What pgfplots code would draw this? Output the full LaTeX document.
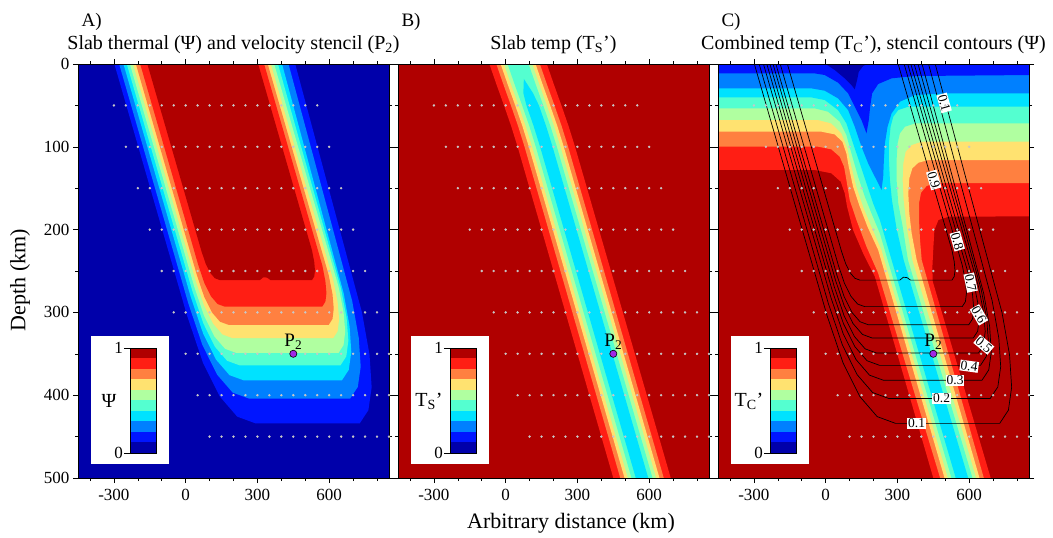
\documentclass[border=0pt]{standalone}
\usepackage{pgfplots}
\usepackage{pgfplotstable}
\pgfplotsset{compat=1.18}
\usepackage{fontspec}
\setmainfont{Liberation Serif}

\definecolor{j0}{RGB}{0,0,170}
\definecolor{j1}{RGB}{0,21,255}
\definecolor{j2}{RGB}{0,128,255}
\definecolor{j3}{RGB}{0,226,255}
\definecolor{j4}{RGB}{84,255,208}
\definecolor{j5}{RGB}{176,255,160}
\definecolor{j6}{RGB}{255,226,112}
\definecolor{j7}{RGB}{255,128,64}
\definecolor{j8}{RGB}{255,30,20}
\definecolor{j9}{RGB}{176,0,0}
\definecolor{dotgray}{RGB}{200,200,200}
\definecolor{ppt}{RGB}{160,40,230}
\newcommand{\fs}[1]{\fontsize{#1}{#1}\selectfont}

% velocity sample points (x km, depth km)
\pgfplotstableread[row sep=\\]{
x z\\
-300 50\\ -250 50\\ -200 50\\ -150 50\\ -100 50\\ -50 50\\ 0 50\\ 50 50\\ 100 50\\ 150 50\\ 200 50\\ 250 50\\ 300 50\\ 350 50\\ 400 50\\ 450 50\\ 500 50\\ 550 50\\
-250 100\\ -200 100\\ -150 100\\ -100 100\\ -50 100\\ 0 100\\ 50 100\\ 100 100\\ 150 100\\ 200 100\\ 250 100\\ 300 100\\ 350 100\\ 400 100\\ 450 100\\ 500 100\\ 550 100\\ 600 100\\
-200 150\\ -150 150\\ -100 150\\ -50 150\\ 0 150\\ 50 150\\ 100 150\\ 150 150\\ 200 150\\ 250 150\\ 300 150\\ 350 150\\ 400 150\\ 450 150\\ 500 150\\ 550 150\\ 600 150\\ 650 150\\
-150 200\\ -100 200\\ -50 200\\ 0 200\\ 50 200\\ 100 200\\ 150 200\\ 200 200\\ 250 200\\ 300 200\\ 350 200\\ 400 200\\ 450 200\\ 500 200\\ 550 200\\ 600 200\\ 650 200\\ 700 200\\
-100 250\\ -50 250\\ 0 250\\ 50 250\\ 100 250\\ 150 250\\ 200 250\\ 250 250\\ 300 250\\ 350 250\\ 400 250\\ 450 250\\ 500 250\\ 550 250\\ 600 250\\ 650 250\\ 700 250\\ 750 250\\
-50 300\\ 0 300\\ 50 300\\ 100 300\\ 150 300\\ 200 300\\ 250 300\\ 300 300\\ 350 300\\ 400 300\\ 450 300\\ 500 300\\ 550 300\\ 600 300\\ 650 300\\ 700 300\\ 750 300\\ 800 300\\
0 350\\ 50 350\\ 100 350\\ 150 350\\ 200 350\\ 250 350\\ 300 350\\ 350 350\\ 400 350\\ 450 350\\ 500 350\\ 550 350\\ 600 350\\ 650 350\\ 700 350\\ 750 350\\ 800 350\\ 850 350\\
50 400\\ 100 400\\ 150 400\\ 200 400\\ 250 400\\ 300 400\\ 350 400\\ 400 400\\ 450 400\\ 500 400\\ 550 400\\ 600 400\\ 650 400\\ 700 400\\ 750 400\\ 800 400\\ 850 400\\
100 450\\ 150 450\\ 200 450\\ 250 450\\ 300 450\\ 350 450\\ 400 450\\ 450 450\\ 500 450\\ 550 450\\ 600 450\\ 650 450\\ 700 450\\ 750 450\\ 800 450\\ 850 450\\
}\gridpts

% stencil Psi contours 0.1 ... 0.9 (panels A and C)
\pgfplotstableread[row sep=\\]{x z\\ -298 0\\ 6 304\\ 72.6 360.9\\ 142.5 401.5\\ 215.6 425.9\\ 292 434\\ 727.6 434\\ 763.9 418.1\\ 777.5 390.4\\ 768.6 351.1\\ 737 300\\ 458 0\\}\psiA
\pgfplotstableread[row sep=\\]{x z\\ -278 0\\ 11 289\\ 69.9 339.3\\ 131.8 375.3\\ 196.4 396.8\\ 264 404\\ 687.7 404\\ 719.7 390\\ 731.7 365.6\\ 723.8 331\\ 696 286\\ 430 0\\}\psiB
\pgfplotstableread[row sep=\\]{x z\\ -260 0\\ 22 282\\ 73.3 325.8\\ 127 357\\ 183.3 375.8\\ 242 382\\ 653.3 382\\ 681.7 369.5\\ 692.4 347.9\\ 685.4 317\\ 660.6 277\\ 403 0\\}\psiC
\pgfplotstableread[row sep=\\]{x z\\ -246 0\\ 28 274\\ 74.1 313.4\\ 122.5 341.5\\ 173.1 358.4\\ 226 364\\ 647.1 364\\ 671.6 353.1\\ 680.2 334.1\\ 673 307.1\\ 649.9 272\\ 386 0\\}\psiD
\pgfplotstableread[row sep=\\]{x z\\ -233 0\\ 36 269\\ 77 304\\ 120 329\\ 165 344\\ 212 349\\ 639 349\\ 660 339.5\\ 667 323\\ 660 299.5\\ 639 269\\ 370 0\\}\psiE
\pgfplotstableread[row sep=\\]{x z\\ -220 0\\ 41 261\\ 76.9 291.6\\ 114.5 313.5\\ 153.9 326.6\\ 195 331\\ 617 331\\ 635.4 322.7\\ 641.5 308.3\\ 635.4 287.7\\ 617 261\\ 356 0\\}\psiF
\pgfplotstableread[row sep=\\]{x z\\ -208 0\\ 47 255\\ 77.7 281.3\\ 110 300\\ 143.8 311.3\\ 179 315\\ 598 315\\ 613.8 307.9\\ 619 295.5\\ 613.8 277.9\\ 598 255\\ 343 0\\}\psiG
\pgfplotstableread[row sep=\\]{x z\\ -190 0\\ 53 243\\ 78.6 264.9\\ 105.5 280.5\\ 133.6 289.9\\ 163 293\\ 571 293\\ 584.1 287.1\\ 588.5 276.8\\ 584.1 262.1\\ 571 243\\ 328 0\\}\psiH
\pgfplotstableread[row sep=\\]{x z\\ -160 0\\ 66 226\\ 83.9 241.3\\ 102.8 252.3\\ 122.4 258.8\\ 143 261\\ 310 261\\ 325 257.5\\ 340 258\\ 355 261\\ 528 261\\ 537.4 256.7\\ 540.6 249.3\\ 537.4 238.7\\ 528 225\\ 303 0\\}\psiI

% slab temperature, regions below 0.9 ... 0.4 (panel B)
\pgfplotstableread[row sep=\\]{x z\\ -68 0\\ -38 25\\ -7 50\\ 23 75\\ 50 100\\ 460 510\\ 700 510\\ 290 100\\ 263 75\\ 233 50\\ 202 25\\ 172 0\\}\slabI
\pgfplotstableread[row sep=\\]{x z\\ -39 0\\ -9 25\\ 22 50\\ 52 75\\ 79 100\\ 489 510\\ 671 510\\ 261 100\\ 234 75\\ 204 50\\ 173 25\\ 143 0\\}\slabH
\pgfplotstableread[row sep=\\]{x z\\ -21 0\\ 9 25\\ 40 50\\ 70 75\\ 97 100\\ 507 510\\ 653 510\\ 243 100\\ 216 75\\ 186 50\\ 155 25\\ 125 0\\}\slabG
\pgfplotstableread[row sep=\\]{x z\\ -7 0\\ 23 25\\ 54 50\\ 84 75\\ 111 100\\ 521 510\\ 639 510\\ 229 100\\ 202 75\\ 172 50\\ 141 25\\ 111 0\\}\slabF
\pgfplotstableread[row sep=\\]{x z\\ 8 0\\ 38 25\\ 69 50\\ 99 75\\ 126 100\\ 536 510\\ 624 510\\ 214 100\\ 187 75\\ 157 50\\ 126 25\\ 96 0\\}\slabE
\pgfplotstableread[row sep=\\]{x z\\ 76 18\\ 74 35\\ 87 50\\ 117 75\\ 144 100\\ 554 510\\ 606 510\\ 196 100\\ 169 75\\ 139 50\\ 114 35\\}\slabD

% combined temperature, regions below 0.9 ... 0.1 (panel C)
\pgfplotstableread[row sep=\\]{x z\\ -460 -5\\ -460 128\\ -46.2 128\\ 23.8 132\\ 63 142.1\\ 79.7 156.2\\ 89.5 172.3\\ 114.7 200.5\\ 156.7 228.7\\ 205.6 256.8\\ 460 510\\ 700 510\\ 447 262\\ 446.2 244.8\\ 450.4 220.6\\ 454.6 200.5\\ 471.4 188.4\\ 513.4 184.4\\ 860 184\\ 860 -5\\}\combI
\pgfplotstableread[row sep=\\]{x z\\ -460 -5\\ -460 99.8\\ -32.2 99.8\\ 23.8 103.1\\ 58.7 111.9\\ 76.9 124\\ 86.7 140.1\\ 100.7 164.3\\ 128.7 188.4\\ 170.7 220.6\\ 219.6 252.8\\ 489 510\\ 671 510\\ 401.5 236.7\\ 394.5 212.6\\ 390.3 188.4\\ 390.3 168.3\\ 398.7 155.4\\ 422 147.3\\ 457 144\\ 860 144\\ 860 -5\\}\combH
\pgfplotstableread[row sep=\\]{x z\\ -460 -5\\ -460 81.7\\ -18.2 81.7\\ 37.8 85\\ 69.9 93.8\\ 86.7 107.9\\ 96.5 124\\ 114.7 148.2\\ 142.7 172.3\\ 174.9 196.5\\ 219.6 224.6\\ 507 510\\ 653 510\\ 380.5 236.7\\ 359.5 204.5\\ 349.7 180.4\\ 345.5 156.2\\ 349.7 138.1\\ 362.3 126\\ 387.5 119.2\\ 429.4 116\\ 860 116\\ 860 -5\\}\combG
\pgfplotstableread[row sep=\\]{x z\\ -460 -5\\ -460 67.6\\ -32.2 67.6\\ 23.8 71.7\\ 65.7 83.7\\ 90.9 101.9\\ 107.7 124\\ 128.7 148.2\\ 156.7 172.3\\ 191.6 196.5\\ 233.6 224.6\\ 521 510\\ 639 510\\ 362 236.7\\ 338.5 196.5\\ 325.9 164.3\\ 321.7 140.1\\ 324.5 120\\ 334.3 105.9\\ 359.5 97.8\\ 401.5 93.8\\ 860 93.8\\ 860 -5\\}\combF
\pgfplotstableread[row sep=\\]{x z\\ -460 -5\\ -460 53.5\\ -46.2 53.5\\ 9.8 57.6\\ 58.7 69.6\\ 86.7 85.8\\ 107.7 107.9\\ 135.7 136.1\\ 163.7 160.2\\ 191.6 180.4\\ 226.6 204.5\\ 536 510\\ 624 510\\ 344 236.7\\ 322 196.5\\ 303.5 168.3\\ 296.5 140.1\\ 296.5 116\\ 300.7 95.8\\ 310.5 83.7\\ 331.5 75.7\\ 373.5 71.7\\ 860 71.7\\ 860 -5\\}\combE
\pgfplotstableread[row sep=\\]{x z\\ -460 -5\\ -460 40.3\\ -60.2 40.3\\ -4.2 43.5\\ 51.8 55.6\\ 86.7 71.7\\ 114.7 95.8\\ 142.7 120\\ 170.7 144.1\\ 198.6 168.3\\ 226.6 188.4\\ 554 510\\ 606 510\\ 326 236.7\\ 295 196.5\\ 277 164.3\\ 268.6 140.1\\ 264.4 116\\ 264.4 95.8\\ 271.4 75.7\\ 282.6 63.6\\ 303.5 55.6\\ 345.5 51.5\\ 860 51.5\\ 860 -5\\}\combD
\pgfplotstableread[row sep=\\]{x z\\ -460 -5\\ -460 29.4\\ -60.2 29.4\\ -4.2 32.2\\ 51.8 41.5\\ 93.7 55.6\\ 121.7 75.7\\ 149.7 99.8\\ 177.7 120\\ 205.6 136.1\\ 233.6 152.2\\ 240.6 136.1\\ 243.4 116\\ 247.6 95.8\\ 258.8 75.7\\ 275.6 59.6\\ 310.5 45.5\\ 373.5 37.4\\ 513.4 35.4\\ 860 35.4\\ 860 -5\\}\combC
\pgfplotstableread[row sep=\\]{x z\\ -460 -5\\ -460 11.3\\ -46.2 11.3\\ -4.2 13.3\\ 51.8 22.5\\ 93.7 35.4\\ 121.7 51.5\\ 149.7 67.6\\ 170.7 83.7\\ 180.5 67.6\\ 186.1 51.5\\ 194.4 35.4\\ 219.6 24.2\\ 275.6 17.3\\ 373.5 14.5\\ 860 13.3\\ 860 -5\\}\combB
\pgfplotstableread[row sep=\\]{x z\\ -4.2 -5\\ -4.2 -0.8\\ 37.8 7.2\\ 79.7 17.3\\ 107.7 25.4\\ 121.7 30.6\\ 131.5 19.3\\ 138.5 9.3\\ 156.7 2.4\\ 177.6 -0.8\\ 177.6 -5\\}\combA

\pgfplotsset{
  panel/.style={
    width=311pt, height=414pt, scale only axis,
    at={(#1pt,60pt)}, anchor=south west,
    xmin=-450, xmax=850, ymin=0, ymax=500, y dir=reverse,
    axis on top, tick align=outside,
    xtick={-300,0,300,600}, xticklabels={-300,0,300,600},
    minor xtick={-400,-200,-100,100,200,400,500,700,800},
    ytick={0,100,...,500}, minor ytick={50,150,...,450},
    yticklabels={},
    major tick length=5pt, minor tick length=3pt,
    tick style={black, line width=0.6pt},
    axis line style={line width=0.8pt},
    tick label style={font=\fs{17}},
    xticklabel style={yshift=-3pt},
    title style={font=\fs{20}, at={(0.5,1)}, anchor=base, yshift=9pt},
  },
  dots/.style={only marks, mark=*, mark size=1pt, color=dotgray},
  ptwo/.style={only marks, mark=*, mark size=3.6pt,
    mark options={fill=ppt, draw=black, line width=0.6pt}},
  cline/.style={black, line width=0.7pt},
}

\newcommand{\cbar}[2]{%
  \begin{scope}[shift={(#1.south west)}]
    \fill[white] (13,14) rectangle (91,142);
    \foreach \i in {0,...,9}{\fill[j\i] (52,{25+10.5*\i}) rectangle (78,{35.5+10.5*\i});}
    \draw[line width=0.8pt] (52,25) rectangle (78,130);
    \draw[line width=0.8pt] (46,25) -- (52,25) (46,130) -- (52,130);
    \node[anchor=east, font=\fs{17}, inner sep=1pt] at (46,130) {1};
    \node[anchor=east, font=\fs{17}, inner sep=1pt] at (46,25) {0};
    \node[font=\fs{20}] at (31,77) {#2};
  \end{scope}}

\begin{document}
\begin{tikzpicture}[x=1pt,y=1pt]
\useasboundingbox (0,0) rectangle (1053,538);

% ---------- A: stencil
\begin{axis}[panel=78, name=pA, axis background/.style={fill=j0},
  title={Slab thermal (Ψ) and velocity stencil (P\textsubscript{2})},
  yticklabels={0,100,200,300,400,500}]
\addplot[fill=j1, draw=none] table[x=x,y=z] {\psiA};
\addplot[fill=j2, draw=none] table[x=x,y=z] {\psiB};
\addplot[fill=j3, draw=none] table[x=x,y=z] {\psiC};
\addplot[fill=j4, draw=none] table[x=x,y=z] {\psiD};
\addplot[fill=j5, draw=none] table[x=x,y=z] {\psiE};
\addplot[fill=j6, draw=none] table[x=x,y=z] {\psiF};
\addplot[fill=j7, draw=none] table[x=x,y=z] {\psiG};
\addplot[fill=j8, draw=none] table[x=x,y=z] {\psiH};
\addplot[fill=j9, draw=none] table[x=x,y=z] {\psiI};
\addplot[dots] table[x=x,y=z] {\gridpts};
\addplot[ptwo] coordinates {(450,350)};
\node[anchor=base, font=\fs{19}, yshift=7pt] at (axis cs:450,350) {P\textsubscript{2}};
\end{axis}
\cbar{pA}{Ψ}

% ---------- B: slab temperature
\begin{axis}[panel=398, name=pB, axis background/.style={fill=j9},
  title={Slab temp (T\textsubscript{S}’)}]
\addplot[fill=j8, draw=none] table[x=x,y=z] {\slabI};
\addplot[fill=j7, draw=none] table[x=x,y=z] {\slabH};
\addplot[fill=j6, draw=none] table[x=x,y=z] {\slabG};
\addplot[fill=j5, draw=none] table[x=x,y=z] {\slabF};
\addplot[fill=j4, draw=none] table[x=x,y=z] {\slabE};
\addplot[fill=j3, draw=none] table[x=x,y=z] {\slabD};
\addplot[dots] table[x=x,y=z] {\gridpts};
\addplot[ptwo] coordinates {(450,350)};
\node[anchor=base, font=\fs{19}, yshift=7pt] at (axis cs:450,350) {P\textsubscript{2}};
\end{axis}
\cbar{pB}{T\textsubscript{S}’}

% ---------- C: combined temperature with stencil contours
\begin{axis}[panel=718, name=pC, axis background/.style={fill=j9},
  title={Combined temp (T\textsubscript{C}’), stencil contours (Ψ)}]
\addplot[fill=j8, draw=none] table[x=x,y=z] {\combI};
\addplot[fill=j7, draw=none] table[x=x,y=z] {\combH};
\addplot[fill=j6, draw=none] table[x=x,y=z] {\combG};
\addplot[fill=j5, draw=none] table[x=x,y=z] {\combF};
\addplot[fill=j4, draw=none] table[x=x,y=z] {\combE};
\addplot[fill=j3, draw=none] table[x=x,y=z] {\combD};
\addplot[fill=j2, draw=none] table[x=x,y=z] {\combC};
\addplot[fill=j1, draw=none] table[x=x,y=z] {\combB};
\addplot[fill=j0, draw=none] table[x=x,y=z] {\combA};
\addplot[dots] table[x=x,y=z] {\gridpts};
\addplot[cline] table[x=x,y=z] {\psiA};
\addplot[cline] table[x=x,y=z] {\psiB};
\addplot[cline] table[x=x,y=z] {\psiC};
\addplot[cline] table[x=x,y=z] {\psiD};
\addplot[cline] table[x=x,y=z] {\psiE};
\addplot[cline] table[x=x,y=z] {\psiF};
\addplot[cline] table[x=x,y=z] {\psiG};
\addplot[cline] table[x=x,y=z] {\psiH};
\addplot[cline] table[x=x,y=z] {\psiI};
\addplot[ptwo] coordinates {(450,350)};
\node[anchor=base, font=\fs{19}, yshift=7pt] at (axis cs:450,350) {P\textsubscript{2}};
\begin{scope}[every node/.style={fill=white, inner sep=0.8pt, font=\fs{13.5}}]
\node[rotate=-74] at (axis cs:495,47) {0.1};
\node[rotate=-74] at (axis cs:452,140) {0.9};
\node[rotate=-74] at (axis cs:550,214) {0.8};
\node[rotate=-78] at (axis cs:606,264) {0.7};
\node[rotate=-60] at (axis cs:641,303) {0.6};
\node[rotate=-40] at (axis cs:661,339) {0.5};
\node[rotate=-8] at (axis cs:600,365) {0.4};
\node at (axis cs:541,382) {0.3};
\node at (axis cs:485,404) {0.2};
\node at (axis cs:380,434) {0.1};
\end{scope}
\end{axis}
\cbar{pC}{T\textsubscript{C}’}

% panel letters and shared axis labels
\node[anchor=base west, font=\fs{19}] at (78,511) {A)};
\node[anchor=base west, font=\fs{19}] at (398,511) {B)};
\node[anchor=base west, font=\fs{19}] at (718,511) {C)};
\node[font=\fs{22}] at (571,15) {Arbitrary distance (km)};
\node[font=\fs{22}, rotate=90] at (20,258) {Depth (km)};
\end{tikzpicture}
\end{document}
